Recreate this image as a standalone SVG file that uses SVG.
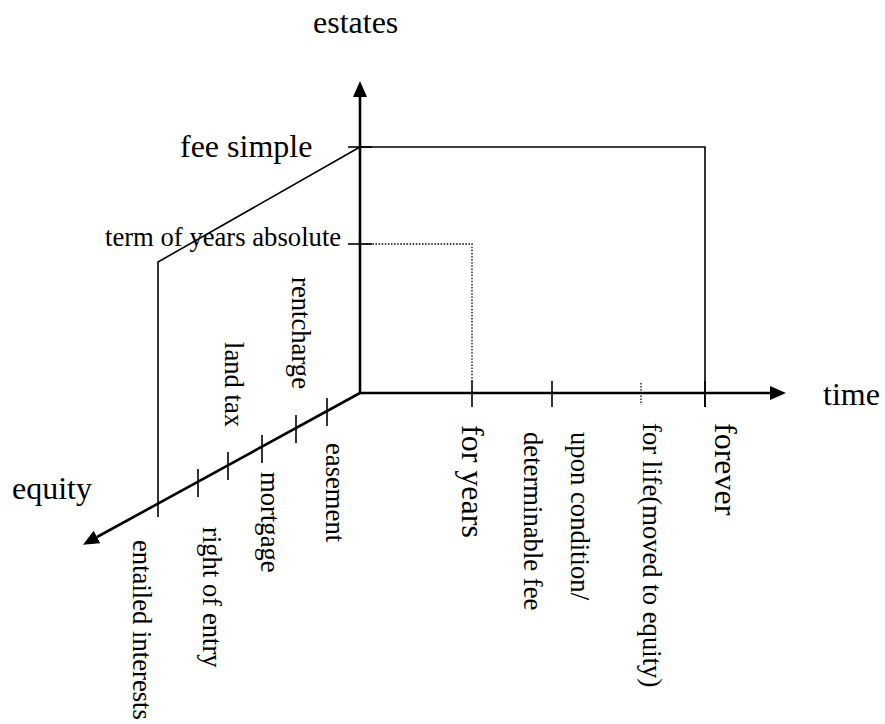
<svg xmlns="http://www.w3.org/2000/svg" width="885" height="724" viewBox="0 0 885 724">
  <style>
    .big { font-family: "Liberation Serif", "Times New Roman", serif; font-size: 32px; fill: #000; }
    .small { font-family: "Liberation Serif", "Times New Roman", serif; font-size: 26.67px; fill: #000; }
    .axis { stroke: #000; stroke-width: 2.6; fill: none; }
    .thin { stroke: #000; stroke-width: 1.6; fill: none; }
    .tick { stroke: #000; stroke-width: 1.6; }
    .dot { stroke: #000; stroke-width: 1.3; stroke-dasharray: 1.5 1.6; fill: none; }
  </style>
  <defs>
    <marker id="arrow" viewBox="0 0 16 14" refX="0" refY="7" markerWidth="16" markerHeight="14" markerUnits="userSpaceOnUse" orient="auto">
      <path d="M0,0 L16,7 L0,14 Z" fill="#000"/>
    </marker>
  </defs>
  <rect width="885" height="724" fill="#fff"/>

  <!-- axes, outline of the estate box, ticks -->
  <g id="connectors">
    <line class="axis" x1="360" y1="393" x2="360" y2="97" marker-end="url(#arrow)"/>
    <line class="axis" x1="360" y1="393" x2="770" y2="393" marker-end="url(#arrow)"/>
    <line class="axis" x1="360" y1="393" x2="97" y2="537" marker-end="url(#arrow)"/>

    <polyline class="thin" points="360,147 705,147 705,407"/>
    <polyline class="thin" points="360,147 158,262 158,517"/>
    <polyline class="dot" points="360,244 472,244 472,383"/>

    <!-- estates axis ticks -->
    <line class="tick" x1="348" y1="147" x2="372" y2="147"/>
    <line class="tick" x1="348" y1="244" x2="372" y2="244"/>

    <!-- time axis ticks -->
    <line class="tick" x1="472" y1="381" x2="472" y2="407"/>
    <line class="tick" x1="552" y1="381" x2="552" y2="407"/>
    <line class="dot" x1="641" y1="383" x2="641" y2="405"/>
    <line class="tick" x1="705" y1="381" x2="705" y2="407"/>

    <!-- equity axis ticks -->
    <line class="tick" x1="198" y1="469" x2="198" y2="497"/>
    <line class="tick" x1="228" y1="452" x2="228" y2="480"/>
    <line class="tick" x1="262" y1="435" x2="262" y2="463"/>
    <line class="tick" x1="296" y1="415" x2="296" y2="443"/>
    <line class="tick" x1="327" y1="398" x2="327" y2="426"/>
  </g>

  <!-- axis titles -->
  <g id="estates"><text class="big" x="313" y="33">estates</text></g>
  <g id="time"><text class="big" x="823" y="405">time</text></g>
  <g id="equity"><text class="big" x="12" y="499">equity</text></g>

  <!-- estates -->
  <g id="fee-simple"><text class="big" x="180" y="157">fee simple</text></g>
  <g id="term-of-years"><text class="small" x="105" y="246">term of years absolute</text></g>

  <!-- durations -->
  <g id="for-years"><text class="big" transform="translate(462,425) rotate(90)">for years</text></g>
  <g id="upon-condition"><text class="small" transform="translate(571,432) rotate(90)">upon condition/</text></g>
  <g id="determinable-fee"><text class="small" transform="translate(524,432) rotate(90)">determinable fee</text></g>
  <g id="for-life"><text class="small" transform="translate(643,423) rotate(90)">for life(moved to equity)</text></g>
  <g id="forever"><text class="big" transform="translate(715,423) rotate(90)">forever</text></g>

  <!-- equitable and other interests -->
  <g id="entailed-interests"><text class="small" transform="translate(133,540) rotate(90)">entailed interests</text></g>
  <g id="right-of-entry"><text class="small" transform="translate(203,527) rotate(90)">right of entry</text></g>
  <g id="land-tax"><text class="small" transform="translate(225,342) rotate(90)">land tax</text></g>
  <g id="mortgage"><text class="small" transform="translate(261,472) rotate(90)">mortgage</text></g>
  <g id="rentcharge"><text class="small" transform="translate(292,277) rotate(90)">rentcharge</text></g>
  <g id="easement"><text class="small" transform="translate(326,443) rotate(90)">easement</text></g>
</svg>
